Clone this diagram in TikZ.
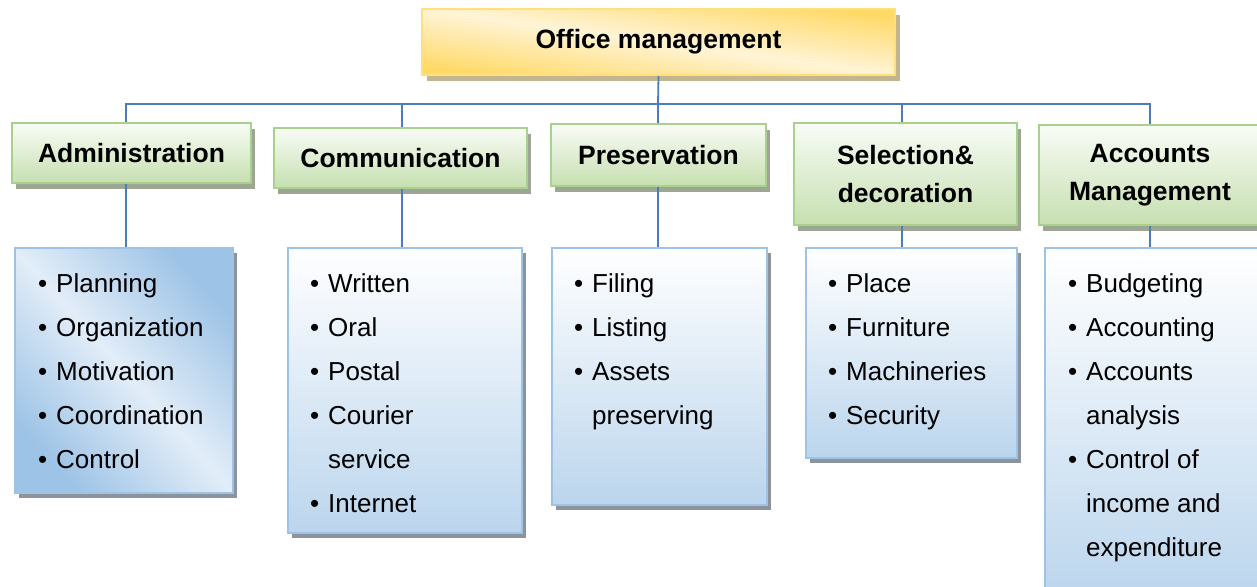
\documentclass[tikz,border=0pt]{standalone}
\usepackage{fontspec}
\setmainfont{Liberation Sans}
\usetikzlibrary{shadows}
\definecolor{conn}{HTML}{4A7EBB}
\definecolor{ydark}{HTML}{FFD966}
\definecolor{ylight}{HTML}{FFF4D6}
\definecolor{yborder}{HTML}{FFE07A}
\definecolor{yshadow}{HTML}{C3B58E}
\definecolor{gborder}{HTML}{A9D18E}
\definecolor{gtop}{HTML}{F9FCF6}
\definecolor{gbot}{HTML}{C6DFB0}
\definecolor{gshadow}{HTML}{9DA593}
\definecolor{bborder}{HTML}{9DC3E6}
\definecolor{bbot}{HTML}{BBD5ED}
\definecolor{bdark}{HTML}{9DC3E6}
\definecolor{blight}{HTML}{E2EDF8}
\definecolor{bshadow}{HTML}{8C939B}
\newcommand{\bul}{\makebox[18pt][l]{•}}
\newcommand{\nob}{\hspace*{18pt}}
\tikzset{
  box/.style={rectangle, inner sep=0pt, line width=2pt, align=center},
  topbox/.style={box, draw=yborder, top color=ydark, bottom color=ydark, middle color=ylight, shading angle=-8,
    drop shadow={shadow xshift=5pt, shadow yshift=-6pt, fill=yshadow, opacity=1},
    font=\bfseries\fontsize{26.5}{38}\selectfont},
  hdr/.style={box, draw=gborder, top color=gtop, bottom color=gbot,
    drop shadow={shadow xshift=4pt, shadow yshift=-6pt, fill=gshadow, opacity=1},
    font=\bfseries\fontsize{26.5}{38}\selectfont},
  listbox/.style={box, draw=bborder, top color=white, bottom color=bbot,
    drop shadow={shadow xshift=4pt, shadow yshift=-5pt, fill=bshadow, opacity=1}},
  diagbox/.style={box, draw=bborder, top color=bdark, bottom color=bdark, middle color=blight, shading angle=-48,
    drop shadow={shadow xshift=4pt, shadow yshift=-5pt, fill=bshadow, opacity=1}},
  item/.style={anchor=base west, inner sep=0pt, font=\fontsize{26}{30}\selectfont},
  link/.style={draw=conn, line width=1.8pt}
}
\begin{document}
\begin{tikzpicture}[x=1pt,y=-1pt]
\useasboundingbox (0,0) rectangle (1257,586);
\clip (0,0) rectangle (1257,586);
\fill[white] (0,0) rectangle (1257,586);

% boxes
\node[topbox, minimum width=473pt, minimum height=66pt] (top) at (658.5,42) {Office management};

\node[hdr, minimum width=239pt, minimum height=60pt] (admin) at (131.5,153) {Administration};
\node[hdr, minimum width=253pt, minimum height=60pt] (comm) at (400.5,158) {Communication};
\node[hdr, minimum width=215pt, minimum height=62pt] (pres) at (658.5,155) {Preservation};
\node[hdr, minimum width=223pt, minimum height=102pt] (sel) at (905.5,174) {Selection\&\\decoration};
\node[hdr, minimum width=222pt, minimum height=100pt] (acc) at (1150,175) {Accounts\\Management};

\node[diagbox, minimum width=218pt, minimum height=245pt] (adminlist) at (124,370.5) {};
\node[listbox, minimum width=234pt, minimum height=285pt] (commlist) at (405,390.5) {};
\node[listbox, minimum width=215pt, minimum height=257pt] (preslist) at (659.5,376.5) {};
\node[listbox, minimum width=211pt, minimum height=210pt] (sellist) at (911.5,353) {};
\node[listbox, minimum width=230pt, minimum height=352pt] (acclist) at (1160,424) {};

% list items
\foreach \t [count=\i from 0] in {{\bul Planning},{\bul Organization},{\bul Motivation},{\bul Coordination},{\bul Control}}
  \node[item] (ad\i) at (38,292+44*\i) {\t};
\foreach \t [count=\i from 0] in {{\bul Written},{\bul Oral},{\bul Postal},{\bul Courier},{\nob service},{\bul Internet}}
  \node[item] (co\i) at (310,292+44*\i) {\t};
\foreach \t [count=\i from 0] in {{\bul Filing},{\bul Listing},{\bul Assets},{\nob preserving}}
  \node[item] (pr\i) at (574,292+44*\i) {\t};
\foreach \t [count=\i from 0] in {{\bul Place},{\bul Furniture},{\bul Machineries},{\bul Security}}
  \node[item] (se\i) at (828,292+44*\i) {\t};
\foreach \t [count=\i from 0] in {{\bul Budgeting},{\bul Accounting},{\bul Accounts},{\nob analysis},{\bul Control of},{\nob income and},{\nob expenditure}}
  \node[item] (ac\i) at (1068,292+44*\i) {\t};

% connectors
\coordinate (bus) at (658,104);
\coordinate (x1) at (126,0);
\coordinate (x2) at (402,0);
\coordinate (x3) at (658,0);
\coordinate (x4) at (902,0);
\coordinate (x5) at (1150,0);
\draw[link] (top.south) -- (bus);
\draw[link] (x1 |- admin.north) |- (bus);
\draw[link] (x2 |- comm.north) |- (bus);
\draw[link] (x3 |- pres.north) -- (bus);
\draw[link] (x4 |- sel.north) |- (bus);
\draw[link] (x5 |- acc.north) |- (bus);
\draw[link] (x1 |- admin.south) -- (x1 |- adminlist.north);
\draw[link] (x2 |- comm.south) -- (x2 |- commlist.north);
\draw[link] (x3 |- pres.south) -- (x3 |- preslist.north);
\draw[link] (x4 |- sel.south) -- (x4 |- sellist.north);
\draw[link] (x5 |- acc.south) -- (x5 |- acclist.north);
\end{tikzpicture}
\end{document}
